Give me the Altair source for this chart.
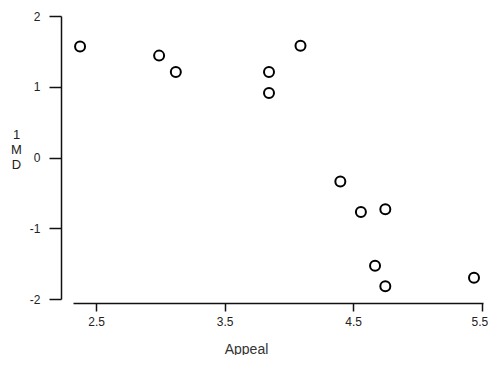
import altair as alt
import pandas as pd

appeal = [2.375, 2.99, 3.12, 3.845, 3.845, 4.09, 4.40, 4.56, 4.75, 4.67, 4.75, 5.44]
md = [1.57, 1.44, 1.21, 1.21, 0.91, 1.58, -0.34, -0.77, -0.73, -1.53, -1.82, -1.70]
x_ticks = [2.5, 3.5, 4.5, 5.5]
y_ticks = [2, 1, 0, -1, -2]

df = pd.DataFrame({"Appeal": appeal, "MD": md})

chart = alt.Chart(df).mark_point(
    shape="circle", filled=False, color="black", size=100, strokeWidth=2, opacity=1
).encode(
    x=alt.X("Appeal:Q",
            scale=alt.Scale(domain=[2.32, 5.51], nice=False, zero=False),
            axis=alt.Axis(values=x_ticks, format=".1f", title="Appeal", grid=False,
                          offset=4, tickSize=8, labelPadding=5, labelFontSize=12,
                          labelAlign={"condition": {"test": "datum.value == 5.5", "value": "right"},
                                      "value": "center"},
                          labelOffset={"condition": {"test": "datum.value == 5.5", "value": 6},
                                       "value": 0},
                          titleFontSize=14, titleFontWeight="normal",
                          titleBaseline="alphabetic",
                          titleX=173, titleY=50, titleColor="#333",
                          labelColor="#222", domainColor="#111", tickColor="#111",
                          domainWidth=1.5, tickWidth=1.5,
                          labelFont="Liberation Sans", titleFont="Liberation Sans")),
    y=alt.Y("MD:Q",
            scale=alt.Scale(domain=[-2, 2], nice=False, zero=False),
            axis=alt.Axis(values=y_ticks, labelExpr="'' + datum.value",
                          title=["1", "M", "D"], grid=False,
                          offset=12, tickSize=12, labelPadding=9, labelFontSize=12,
                          titleFontSize=13, titleFontWeight="normal", titleAngle=0,
                          titleAlign="center", titleBaseline="alphabetic",
                          titleLineHeight=15, titleX=-45, titleY=122,
                          titleColor="#222",
                          labelColor="#222", domainColor="#111", tickColor="#111",
                          domainWidth=1.5, tickWidth=1.5,
                          labelFont="Liberation Sans", titleFont="Liberation Sans")),
).properties(
    width=410, height=283,
    autosize=alt.AutoSizeParams(type="none"),
    padding={"left": 65, "top": 8, "right": 5, "bottom": 56},
).configure(background="white", view=alt.ViewConfig(stroke=None))

chart.save("out.html", embed_options={"renderer": "svg", "actions": False})
